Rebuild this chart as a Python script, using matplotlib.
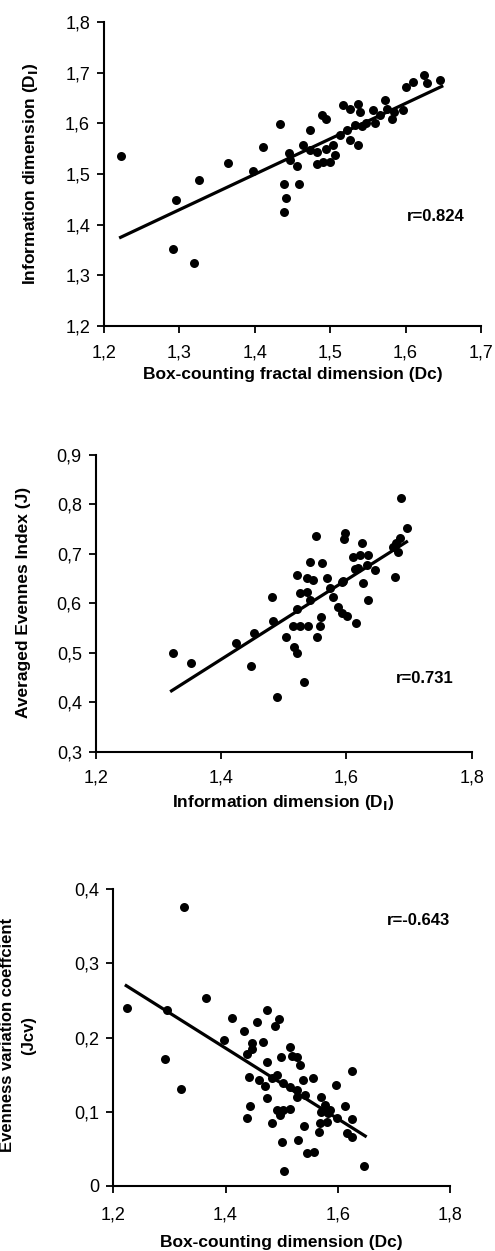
import matplotlib
matplotlib.use("Agg")
import matplotlib.pyplot as plt

plt.rcParams['font.family'] = ['Liberation Sans', 'DejaVu Sans']

# panel 1: box-counting dimension vs information dimension
x1 = [1.223, 1.292, 1.295, 1.319, 1.326, 1.364, 1.397, 1.411, 1.433, 1.439, 1.441, 1.439, 1.459,
      1.446, 1.447, 1.456, 1.464, 1.473, 1.473, 1.482, 1.482, 1.489, 1.494, 1.491, 1.500, 1.506,
      1.495, 1.504, 1.513, 1.522, 1.526, 1.537, 1.517, 1.526, 1.537, 1.540, 1.533, 1.542, 1.548,
      1.557, 1.559, 1.566, 1.573, 1.575, 1.582, 1.584, 1.597, 1.601, 1.610, 1.624, 1.628, 1.646]
y1 = [1.535, 1.352, 1.449, 1.325, 1.489, 1.521, 1.505, 1.554, 1.598, 1.481, 1.452, 1.425, 1.481,
      1.542, 1.527, 1.516, 1.557, 1.548, 1.587, 1.544, 1.520, 1.616, 1.608, 1.524, 1.524, 1.537,
      1.550, 1.557, 1.577, 1.587, 1.567, 1.557, 1.636, 1.629, 1.638, 1.623, 1.596, 1.594, 1.600,
      1.626, 1.600, 1.616, 1.646, 1.629, 1.609, 1.623, 1.627, 1.672, 1.682, 1.695, 1.679, 1.685]
fit1_x = [1.222, 1.648]
fit1_y = [1.375, 1.673]

# panel 2: information dimension vs averaged evenness
x2 = [1.323, 1.352, 1.424, 1.453, 1.448, 1.481, 1.483, 1.489, 1.504, 1.517, 1.521, 1.533, 1.521,
      1.542, 1.561, 1.552, 1.598, 1.596, 1.625, 1.537, 1.547, 1.526, 1.537, 1.542, 1.522, 1.515,
      1.526, 1.539, 1.553, 1.558, 1.559, 1.569, 1.574, 1.579, 1.587, 1.593, 1.601, 1.615, 1.594,
      1.611, 1.619, 1.627, 1.635, 1.688, 1.697, 1.686, 1.680, 1.675, 1.683, 1.677, 1.622, 1.635,
      1.614, 1.633, 1.646, 1.593]
y2 = [0.499, 0.479, 0.519, 0.540, 0.474, 0.612, 0.565, 0.410, 0.532, 0.512, 0.500, 0.440, 0.657,
      0.684, 0.681, 0.736, 0.741, 0.729, 0.722, 0.650, 0.647, 0.620, 0.623, 0.606, 0.588, 0.553,
      0.553, 0.555, 0.532, 0.553, 0.573, 0.650, 0.630, 0.613, 0.593, 0.580, 0.574, 0.561, 0.645,
      0.694, 0.671, 0.640, 0.606, 0.812, 0.753, 0.732, 0.721, 0.714, 0.704, 0.654, 0.697, 0.697,
      0.670, 0.677, 0.667, 0.643]
fit2_x = [1.321, 1.696]
fit2_y = [0.423, 0.724]

# panel 3: box-counting dimension vs evenness variation coefficient
x3 = [1.224, 1.295, 1.326, 1.365, 1.293, 1.320, 1.398, 1.412, 1.433, 1.456, 1.473, 1.496, 1.488,
      1.447, 1.447, 1.439, 1.466, 1.473, 1.498, 1.515, 1.518, 1.527, 1.532, 1.442, 1.460, 1.470,
      1.473, 1.482, 1.491, 1.503, 1.515, 1.527, 1.527, 1.538, 1.556, 1.542, 1.571, 1.577, 1.571,
      1.583, 1.586, 1.597, 1.625, 1.613, 1.598, 1.625, 1.616, 1.625, 1.566, 1.568, 1.580, 1.444,
      1.438, 1.491, 1.503, 1.515, 1.497, 1.482, 1.539, 1.500, 1.530, 1.546, 1.557, 1.505, 1.647]
y3 = [0.240, 0.237, 0.376, 0.253, 0.171, 0.130, 0.197, 0.227, 0.209, 0.221, 0.237, 0.225, 0.215,
      0.193, 0.185, 0.178, 0.194, 0.167, 0.174, 0.187, 0.175, 0.174, 0.163, 0.147, 0.143, 0.134,
      0.119, 0.145, 0.149, 0.138, 0.133, 0.129, 0.120, 0.142, 0.145, 0.122, 0.120, 0.109, 0.100,
      0.098, 0.102, 0.136, 0.155, 0.107, 0.091, 0.090, 0.071, 0.066, 0.073, 0.084, 0.086, 0.107,
      0.092, 0.102, 0.102, 0.103, 0.095, 0.084, 0.081, 0.059, 0.062, 0.044, 0.045, 0.020, 0.026]
fit3_x = [1.223, 1.649]
fit3_y = [0.270, 0.067]

x1_ticks = [1.2, 1.3, 1.4, 1.5, 1.6, 1.7]
x1_labels = ['1,2', '1,3', '1,4', '1,5', '1,6', '1,7']
y1_ticks = [1.2, 1.3, 1.4, 1.5, 1.6, 1.7, 1.8]
y1_labels = ['1,2', '1,3', '1,4', '1,5', '1,6', '1,7', '1,8']
x23_ticks = [1.2, 1.4, 1.6, 1.8]
x23_labels = ['1,2', '1,4', '1,6', '1,8']
y2_ticks = [0.3, 0.4, 0.5, 0.6, 0.7, 0.8, 0.9]
y2_labels = ['0,3', '0,4', '0,5', '0,6', '0,7', '0,8', '0,9']
y3_ticks = [0, 0.1, 0.2, 0.3, 0.4]
y3_labels = ['0', '0,1', '0,2', '0,3', '0,4']

fig = plt.figure(figsize=(4.95, 12.51), dpi=100)


def panel(rect, x, y, fx, fy, xt, xl, yt, yl, xpad):
    ax = fig.add_axes(rect)
    ax.scatter(x, y, s=42, color='black', zorder=3, linewidths=0)
    ax.plot(fx, fy, color='black', lw=2.3, zorder=2)
    ax.set_xlim(xt[0], xt[-1])
    ax.set_ylim(yt[0], yt[-1])
    ax.set_xticks(xt)
    ax.set_xticklabels(xl)
    ax.set_yticks(yt)
    ax.set_yticklabels(yl)
    for s in ['top', 'right']:
        ax.spines[s].set_visible(False)
    for s in ['left', 'bottom']:
        ax.spines[s].set_linewidth(1.5)
    ax.tick_params(axis='both', direction='out', length=5, width=1.3, labelsize=13)
    ax.tick_params(axis='y', pad=5)
    ax.tick_params(axis='x', pad=xpad)
    return ax


ax1 = panel([0.2101, 0.7394, 0.7616, 0.2430], x1, y1, fit1_x, fit1_y,
            x1_ticks, x1_labels, y1_ticks, y1_labels, 8)
ax1.set_xlabel('Box-counting fractal dimension (Dc)', fontsize=12.5, fontweight='bold')
ax1.xaxis.set_label_coords(0.5, -0.135)
ax1.set_ylabel('Information dimension (D$_\\mathbf{I}$)', fontsize=12.5, fontweight='bold')
ax1.yaxis.set_label_coords(-0.17, 0.5)
ax1.text(0.88, 0.36, 'r=0.824', transform=ax1.transAxes, ha='center', va='center',
         fontsize=12, fontweight='bold')

ax2 = panel([0.1933, 0.3991, 0.7596, 0.2374], x2, y2, fit2_x, fit2_y,
            x23_ticks, x23_labels, y2_ticks, y2_labels, 8)
ax2.set_xlabel('Information dimension (D$_\\mathbf{I}$)', fontsize=12.5, fontweight='bold')
ax2.xaxis.set_label_coords(0.5, -0.14)
ax2.set_ylabel('Averaged Evennes Index (J)', fontsize=12.5, fontweight='bold')
ax2.yaxis.set_label_coords(-0.172, 0.504)
ax2.text(0.876, 0.248, 'r=0.731', transform=ax2.transAxes, ha='center', va='center',
         fontsize=12, fontweight='bold')

ax3 = panel([0.2289, 0.0522, 0.6802, 0.2369], x3, y3, fit3_x, fit3_y,
            x23_ticks, x23_labels, y3_ticks, y3_labels, 10)
ax3.set_xlabel('Box-counting dimension (Dc)', fontsize=12.5, fontweight='bold')
ax3.xaxis.set_label_coords(0.5, -0.165)
ax3.set_ylabel('Evenness variation coeffcient\n(Jcv)', fontsize=12, fontweight='bold',
               linespacing=1.45)
ax3.yaxis.set_label_coords(-0.23, 0.508)
ax3.text(0.905, 0.895, 'r=-0.643', transform=ax3.transAxes, ha='center', va='center',
         fontsize=12, fontweight='bold')

fig.savefig('out.png', dpi=100)
